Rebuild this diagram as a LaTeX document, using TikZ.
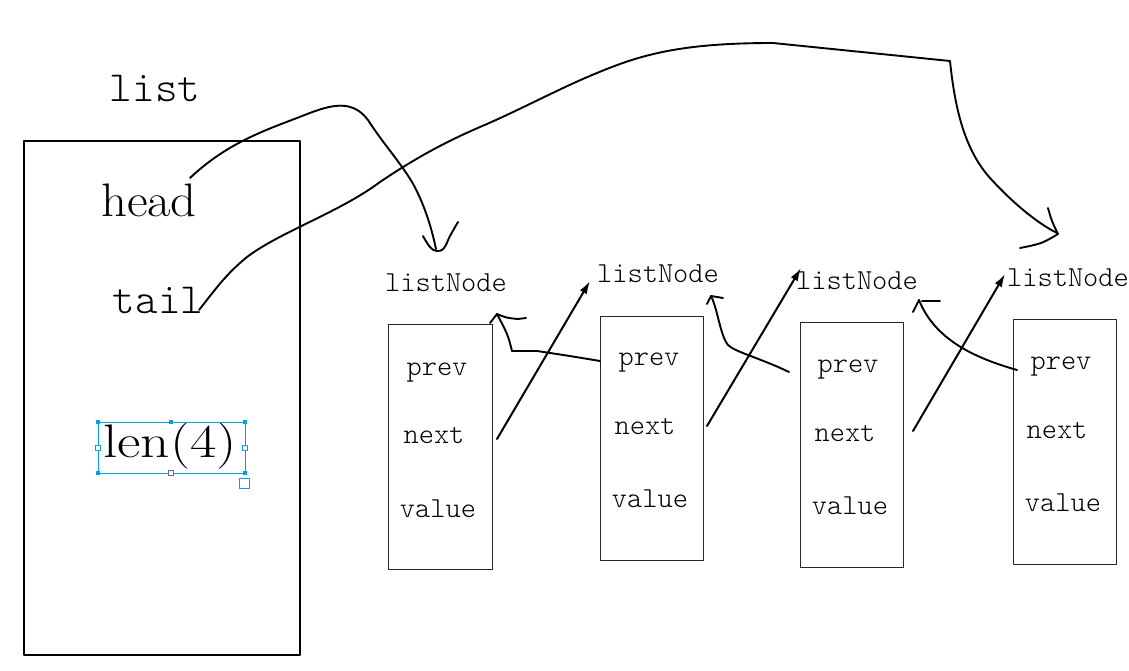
\documentclass[tikz,border=0pt]{standalone}
\usepackage{fontspec}
\setmonofont{lmmonolt10-regular.otf}
\usetikzlibrary{arrows.meta,positioning}
\definecolor{selblue}{RGB}{0,160,233}
\tikzset{
  big/.style={font=\ttfamily\fontsize{43}{43}\selectfont,inner sep=0pt},
  bigrm/.style={font=\fontsize{47}{47}\selectfont,inner sep=0pt},
  tag/.style={font=\ttfamily\fontsize{29}{29}\selectfont,inner sep=0pt},
  field/.style={font=\ttfamily\fontsize{29}{29}\selectfont,inner sep=0pt},
  cell/.style={draw=black!85,line width=0.9pt,minimum width=104pt,minimum height=245pt,inner sep=0pt},
  wire/.style={line width=1.9pt},
  link/.style={line width=2pt,->},
  handle/.style={fill=selblue,minimum size=4pt,inner sep=0pt},
  ohandle/.style={draw=selblue,fill=white,minimum size=5pt,inner sep=0pt,line width=0.8pt}
}
\begin{document}
\begin{tikzpicture}[x=1pt,y=-1pt,line cap=round,line join=round,>={Latex[length=13pt,width=8pt]}]
\useasboundingbox (0,0) rectangle (1129,671);
% the list struct
\node[draw,line width=1.5pt,minimum width=276pt,minimum height=514pt,inner sep=0pt] (list) at (162,398) {};
\node[big] (listname) at (155,88) {list};
\node[bigrm,xscale=1.08,transform shape] (head) at (149,200) {head};
\node[big] (tail) at (158,300) {tail};
\node[bigrm,xscale=1.22,transform shape] (len) at (170,446) {len(4)};
% selection frame round len(4)
\coordinate (selA) at (98,422);
\coordinate (selB) at (245,473);
\draw[selblue,line width=0.9pt] (selA) rectangle (selB);
\node[handle] at (98,422) {};
\node[handle] at (171,422) {};
\node[handle] at (245,422) {};
\node[handle] at (98,473) {};
\node[handle] at (245,473) {};
\node[ohandle] at (98,448) {};
\node[ohandle] at (245,448) {};
\node[ohandle,draw=black!60] at (171,473) {};
\node[ohandle,minimum size=10pt] at (244,483) {};
% list nodes
\node[cell] (c1) at (440,446.5) {};
\node[tag] (t1) at (446,283) {listNode};
\node[field] (p1) at (437,373) {prev};
\node[field] (n1) at (434,436) {next};
\node[field] (v1) at (438,509) {value};
\node[cell,minimum width=103pt,minimum height=244pt] (c2) at (651.5,438) {};
\node[tag] (t2) at (658,274) {listNode};
\node[field] (p2) at (649,363) {prev};
\node[field] (n2) at (645,427) {next};
\node[field] (v2) at (650,499) {value};
\node[cell,minimum width=103pt] (c3) at (851.5,444.5) {};
\node[tag] (t3) at (857,281) {listNode};
\node[field] (p3) at (848,370) {prev};
\node[field] (n3) at (845,434) {next};
\node[field] (v3) at (850,506) {value};
\node[cell,minimum width=103pt] (c4) at (1064.5,441.5) {};
\node[tag] (t4) at (1068,278) {listNode};
\node[field] (p4) at (1061,367) {prev};
\node[field] (n4) at (1057,431) {next};
\node[field] (v4) at (1063,503) {value};
% next pointers
\coordinate (n1out) at (497,439);
\coordinate (t2in) at (590,281);
\coordinate (n2out) at (707,426);
\coordinate (t3in) at (801,268);
\coordinate (n3out) at (913,431);
\coordinate (t4in) at (1005,274);
\draw[link] (n1out) -- (t2in);
\draw[link] (n2out) -- (t3in);
\draw[link] (n3out) -- (t4in);
% prev pointers, drawn by hand
\coordinate (p2out) at (600,361);
\coordinate (p3out) at (789,372);
\coordinate (p4out) at (1017,370);
\draw[wire] (p2out) .. controls (570,356) .. (537,351) -- (512,351) .. controls (508,335) .. (497,314);
\draw[wire] (490,323) -- (497,314) .. controls (507,318) .. (518,319) -- (526,318);
\draw[wire] (p3out) .. controls (760,358) and (735,352) .. (728,345) .. controls (720,335) and (718,310) .. (711,296);
\draw[wire] (707,304) -- (711,296) -- (723,298);
\draw[wire] (p4out) .. controls (975,358) and (935,340) .. (919,300);
\draw[wire] (913,312) -- (919,300);
\draw[wire] (922,301) -- (940,301);
% head and tail pointers
\coordinate (headout) at (190,178);
\coordinate (tailout) at (199,310);
\draw[wire] (headout) .. controls (225,145) and (260,132) .. (297,118)
  .. controls (325,107) and (350,96) .. (368,120)
  .. controls (382,142) and (400,162) .. (412,182)
  .. controls (425,205) and (432,230) .. (436,249);
\draw[wire] plot[smooth,tension=0.7] coordinates {(423,236) (430,247) (437,251) (444,248) (450,236) (458,222)};
\draw[wire] (tailout) .. controls (215,290) and (225,275) .. (247,257)
  .. controls (280,232) and (340,212) .. (380,182)
  .. controls (420,155) and (450,140) .. (480,127)
  .. controls (520,110) and (560,88) .. (597,73)
  .. controls (640,55) and (680,43) .. (773,43) -- (950,61)
  .. controls (955,110) and (965,150) .. (990,178)
  .. controls (1010,200) and (1035,222) .. (1057,233);
\draw[wire] plot[smooth,tension=0.6] coordinates {(1048,208) (1052,221) (1058,234)};
\draw[wire] plot[smooth,tension=0.6] coordinates {(1020,248) (1041,243) (1058,234)};
\end{tikzpicture}
\end{document}
